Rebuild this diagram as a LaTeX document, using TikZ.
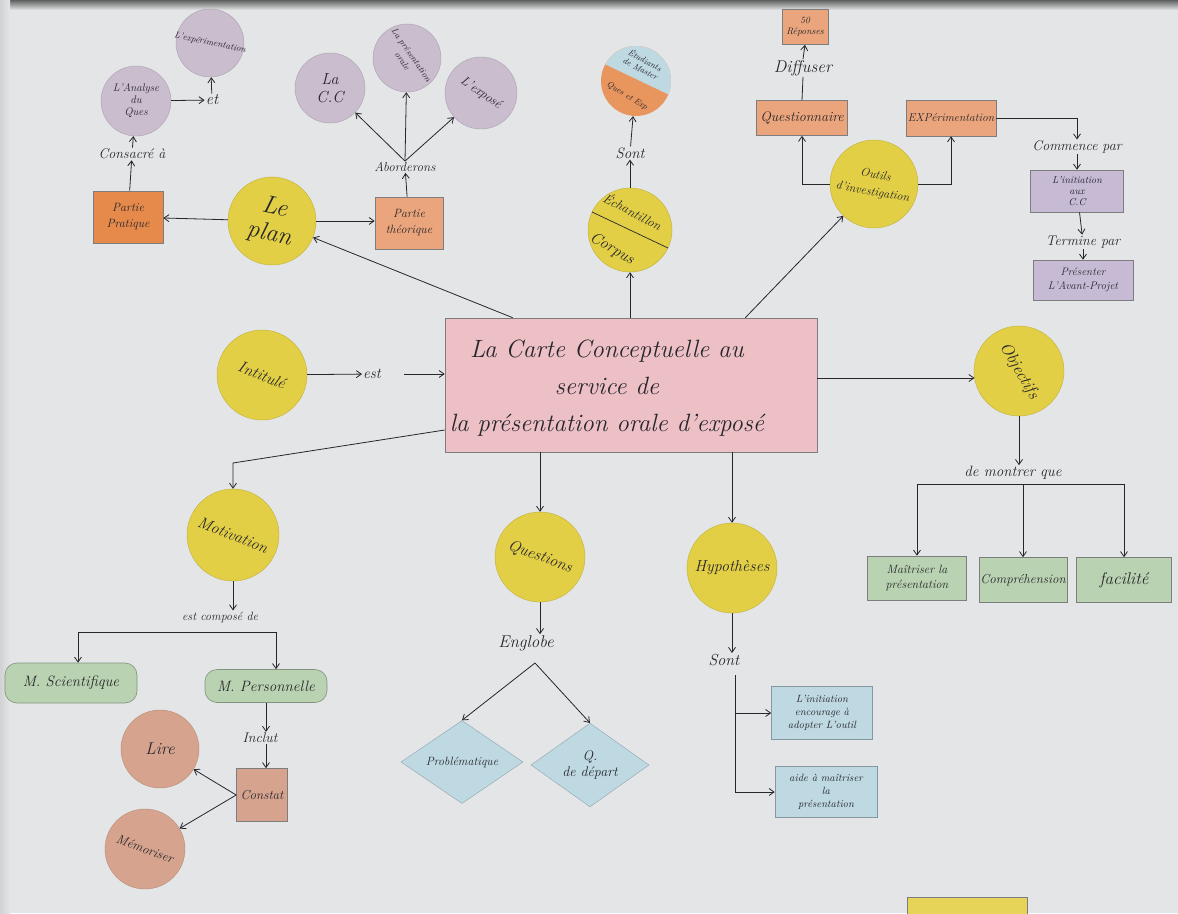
\documentclass[tikz,border=0pt]{standalone}
\usepackage{fontspec}
\usetikzlibrary{arrows.meta,shapes.geometric,calc}

\definecolor{paper}{HTML}{E3E5E7}
\definecolor{sun}{HTML}{E2CF45}
\definecolor{lilac}{HTML}{C9BDCE}
\definecolor{peach}{HTML}{EBA57C}
\definecolor{tang}{HTML}{E68A4C}
\definecolor{rose}{HTML}{EDC0C6}
\definecolor{sage}{HTML}{B9D2B1}
\definecolor{sky}{HTML}{BFD9E3}
\definecolor{clay}{HTML}{D6A38E}
\definecolor{mauve}{HTML}{C7BAD5}
\definecolor{ink}{HTML}{26262B}

\tikzset{
  hw/.style 2 args={font=\fontsize{#1}{#2}\selectfont\itshape},
  txt/.style={text=ink, inner sep=1pt, align=center},
  disc/.style={circle, inner sep=0pt, minimum size=#1, align=center, text=ink},
  sunc/.style={disc=#1, fill=sun, draw=sun!85!black, line width=0.4pt},
  lilc/.style={disc=#1, fill=lilac, draw=lilac!85!black, line width=0.4pt},
  clayc/.style={disc=#1, fill=clay, draw=clay!85!black, line width=0.4pt},
  card/.style={rectangle, draw=ink!60, line width=0.6pt, inner sep=1pt, align=center, text=ink},
  lk/.style={draw=ink, line width=0.8pt},
  ar/.style={lk, -{Straight Barb[length=5pt,width=7pt]}},
}

\begin{document}
\begin{tikzpicture}[x=1pt,y=-1pt]
\path[use as bounding box] (0,0) rectangle (1178,913);
\fill[paper] (0,0) rectangle (1178,913);
\shade[top color=gray!75!black, bottom color=paper] (0,0) rectangle (1178,10);
\shade[left color=gray!35, right color=paper] (0,0) rectangle (10,913);

% ---------- central box ----------
\node[card, fill=rose, minimum width=372, minimum height=134] (main) at (631,385) {};
\node[txt, hw={25}{37}] (maintext) at (607,388) {La Carte Conceptuelle au\\service de\\la présentation orale d'exposé};

% ---------- le plan ----------
\node[sunc=88] (plan) at (272,221) {};
\node[txt, hw={25}{27}, rotate=-12] (plantext) at (plan) {Le\\plan};
\node[card, fill=tang, minimum width=70, minimum height=52, hw={12}{16}] (pp) at (128,217) {Partie\\Pratique};
\node[card, fill=peach, minimum width=68, minimum height=52, hw={12}{16}] (pt) at (409,223) {Partie\\théorique};
\node[txt, hw={14}{16}] (cons) at (132,154) {Consacré à};
\node[lilc=70, hw={11}{12}] (ana) at (136,101) {L'Analyse\\du\\Ques};
\node[txt, hw={16}{18}] (et) at (212,100) {et};
\node[lilc=68] (expe) at (210,43) {};
\node[txt, hw={9}{10}, rotate=-12] (expetext) at (expe) {L'expérimentation};
\node[txt, hw={13}{15}] (abo) at (405,167) {Aborderons};
\node[lilc=70, hw={16}{18}] (cc) at (330,88) {La\\C.C};
\node[lilc=68] (pro) at (407,58) {};
\node[txt, hw={9}{11}, rotate=-55] (protext) at (pro) {La présentation\\orale};
\node[lilc=72] (expo) at (481,93) {};
\node[txt, hw={13}{15}, rotate=-35] (expotext) at (expo) {L'exposé};

\draw[ar] ([xshift=68]main.north west) -- (plan);
\draw[ar] (plan) -- (pp);
\draw[ar] (plan) -- (plan -| pt.west);
\draw[ar] (pp) -- (cons);
\draw[ar] (cons) -- (ana);
\draw[ar] (ana) -- (et);
\draw[ar] (et) -- (expe);
\draw[ar] (pt) -- (abo);
\draw[ar] (abo.north) -- (cc);
\draw[ar] (abo.north) -- (pro);
\draw[ar] (abo.north) -- (expo);

% ---------- échantillon / corpus ----------
\node[disc=70, fill=tang!90] (etu) at (636,81) {};
\begin{scope}
  \clip (etu.center) circle[radius=35];
  \fill[sky] (590,35) -- (680,35) -- (680,100) -- (590,57) -- cycle;
\end{scope}
\node[txt, hw={8.5}{9.5}, rotate=-28] (etua) at (643,64) {Étudiants\\de Master};
\node[txt, hw={8.5}{9.5}, rotate=-32] (etub) at (627,96) {Ques et Exp};
\node[txt, hw={15}{17}] (sont1) at (630,153) {Sont};
\node[sunc=84] (ech) at (630,230) {};
\draw[lk, line width=0.7pt] ($(ech.center)+(-38,-18)$) -- ($(ech.center)+(38,18)$);
\node[txt, hw={13}{15}, rotate=-28] (echa) at (633,211) {Échantillon};
\node[txt, hw={16}{18}, rotate=-30] (echb) at (612,249) {Corpus};

\draw[ar] (main.north -| ech) -- (ech);
\draw[ar] (ech) -- (sont1);
\draw[ar] (sont1) -- (etu);

% ---------- outils d'investigation ----------
\node[card, fill=peach, minimum width=46, minimum height=35, hw={9.5}{10.5}] (rep) at (805,27) {50\\Réponses};
\node[txt, hw={17}{19}] (dif) at (803,68) {Diffuser};
\node[card, fill=peach, minimum width=91, minimum height=35, hw={14}{16}] (ques) at (802,118) {Questionnaire};
\node[card, fill=peach, minimum width=90, minimum height=36, hw={11.5}{13}] (exb) at (951,118) {EXPérimentation};
\node[sunc=88] (out) at (874,184) {};
\node[txt, hw={12}{17}, rotate=-10] (outtext) at (out) {Outils\\d'investigation};
\node[txt, hw={14}{16}] (com) at (1077,147) {Commence par};
\node[card, fill=mauve, minimum width=93, minimum height=42, hw={10}{11}] (ini) at (1077,191) {L'initiation\\aux\\C.C};
\node[txt, hw={14}{16}] (ter) at (1083,242) {Termine par};
\node[card, fill=mauve, minimum width=100, minimum height=40, hw={11}{14}] (prs) at (1083,280) {Présenter\\L'Avant-Projet};

\draw[ar] ([xshift=-72]main.north east) -- (out);
\draw[ar] (out.west) -| (ques.south);
\draw[ar] (out.east) -| (exb.south);
\draw[lk] (ques.north) -- (dif.south);
\draw[ar] (dif.north) -- (rep.south);
\draw[ar] (exb.east) -| (com.north);
\draw[ar] (com) -- (ini);
\draw[ar] (ini) -- (ter);
\draw[ar] (ter) -- (prs);

% ---------- intitulé ----------
\node[sunc=90] (inti) at (262,375) {};
\node[txt, hw={16}{18}, rotate=-22] (intitext) at (inti) {Intitulé};
\node[txt, hw={15}{17}] (est) at (372,374) {est};
\draw[ar] (inti) -- (est);
\draw[ar] ([xshift=22]est.east) -- (est.east -| main.west);

% ---------- objectifs ----------
\node[sunc=90] (obj) at (1019,371) {};
\node[txt, hw={17}{19}, rotate=-60] (objtext) at (obj) {Objectifs};
\coordinate (objin) at ($(obj.center)+(-44.5,7)$);
\draw[ar] ([yshift=7]main.east) -- (objin);
\node[txt, hw={15}{17}] (mon) at (1013,473) {de montrer que};
\node[card, fill=sage, minimum width=99, minimum height=44, hw={12}{15}] (mast) at (917,578) {Maîtriser la\\présentation};
\node[card, fill=sage, minimum width=88, minimum height=45, hw={13}{15}] (comp) at (1023,580) {Compréhension};
\node[card, fill=sage, minimum width=95, minimum height=45, hw={17}{19}] (faci) at (1124,580) {facilité};
\coordinate (obar) at (1019,484);
\draw[ar] (obj.south) -- (obj.south |- mon.north);
\draw[lk] (obar -| mast) -- (obar -| faci);
\draw[ar] (obar -| mast) -- (mast.north);
\draw[ar] (obar -| comp) -- (comp.north);
\draw[ar] (obar -| faci) -- (faci.north);

% ---------- motivation ----------
\node[sunc=92] (moti) at (233,535) {};
\node[txt, hw={16}{18}, rotate=-22] (motitext) at (moti) {Motivation};
\coordinate (mbend) at (233,463);
\draw[ar] ([yshift=-45]main.west) -- (mbend) -- (moti.north);
\node[txt, hw={12}{14}] (ecd) at (220,617) {est composé de};
\draw[ar] (moti.south) -- (moti.south |- ecd.north);
\node[card, draw=sage!70!black, rounded corners=12pt, fill=sage, minimum width=132, minimum height=40, hw={15}{17}] (msci) at (71,683) {M. Scientifique};
\node[card, draw=sage!70!black, rounded corners=12pt, fill=sage, minimum width=122, minimum height=33, hw={15}{17}] (mper) at (266,686) {M. Personnelle};
\coordinate (mbl) at (78,632);
\coordinate (mbr) at (276,632);
\draw[lk] (mbl) -- (mbr);
\draw[ar] (mbl) -- (mbl |- msci.north);
\draw[ar] (mbr) -- (mbr |- mper.north);
\node[txt, hw={14}{16}] (incl) at (260,738) {Inclut};
\node[card, fill=clay, minimum width=51, minimum height=53, hw={13}{15}] (con) at (262,795) {Constat};
\node[clayc=78, hw={17}{19}] (lire) at (160,749) {Lire};
\node[clayc=80] (memo) at (145,849) {};
\node[txt, hw={13}{15}, rotate=-20] (memotext) at (memo) {Mémoriser};
\draw[ar] (mper.south) -- (mper.south |- incl.north);
\draw[ar] (incl.south -| mper.south) -- (con.north -| mper.south);
\draw[ar] (con.west) -- (lire);
\draw[ar] (con.west) -- (memo);

% ---------- questions ----------
\node[sunc=90] (qst) at (540,557) {};
\node[txt, hw={16}{18}, rotate=-20] (qsttext) at (qst) {Questions};
\draw[ar] (main.south -| qst) -- (qst);
\node[txt, hw={17}{19}] (eng) at (526,643) {Englobe};
\draw[ar] (qst.south) -- (qst.south |- eng.north);
\coordinate (esplit) at (535,663);
\node[diamond, fill=sky, draw=sky!75!black, line width=0.4pt, inner sep=0pt, minimum width=122, minimum height=63, text=ink, hw={12}{14}] (prob) at (462,762) {Problématique};
\node[diamond, fill=sky, draw=sky!75!black, line width=0.4pt, inner sep=0pt, minimum width=118, minimum height=70, text=ink, align=center, hw={14}{16}] (qdep) at (590,765) {Q.\\de départ};
\draw[ar] (esplit) -- (prob.north);
\draw[ar] (esplit) -- (qdep.north);

% ---------- hypothèses ----------
\node[sunc=90, hw={16}{18}] (hyp) at (732,568) {Hypothèses};
\draw[ar] (main.south -| hyp) -- (hyp);
\node[txt, hw={16}{18}] (sont2) at (724,660) {Sont};
\draw[ar] (hyp.south) -- (hyp.south |- sont2.north);
\node[card, draw=sky!70!black, fill=sky, minimum width=101, minimum height=53, hw={10.5}{13}] (hyA) at (822,713) {L'initiation\\encourage à\\adopter L'outil};
\node[card, draw=sky!70!black, fill=sky, minimum width=102, minimum height=51, hw={10.5}{13}] (hyB) at (826,792) {aide à maîtriser\\la\\présentation};
\coordinate (htop) at (735,675);
\draw[lk] (htop) -- (htop |- hyB.west);
\draw[ar] (htop |- hyA.west) -- (hyA.west);
\draw[ar] (htop |- hyB.west) -- (hyB.west);

% ---------- sticky note at the lower edge ----------
\fill[sun!90!white, draw=ink!60, line width=0.5pt] (907,897) rectangle (1027,916);
\end{tikzpicture}
\end{document}
